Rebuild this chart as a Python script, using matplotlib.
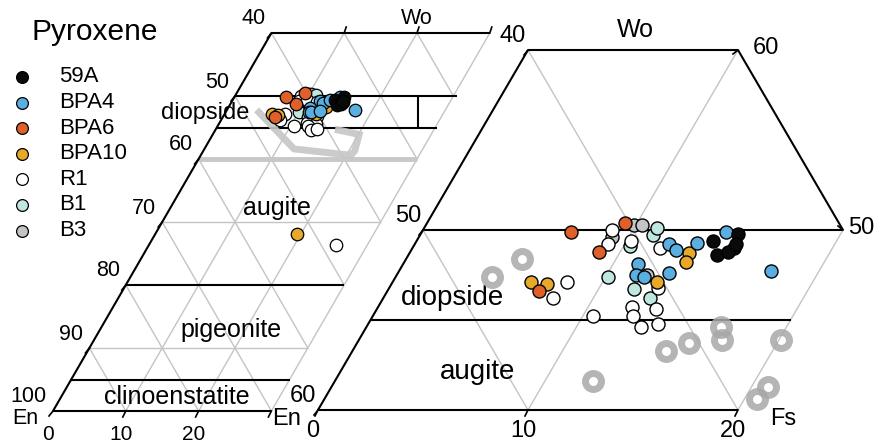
import numpy as np
import matplotlib.pyplot as plt

plt.rcParams['font.family'] = ['Liberation Sans', 'DejaVu Sans']

# pyroxene compositions, (Fs, Wo) in mol %
fs_59a = [14.1, 15.1, 15.3, 14.7, 15.1, 15.3]
wo_59a = [49.4, 49.8, 49.0, 48.6, 48.8, 49.2]

fs_bpa4 = [12.1, 12.6, 13.4, 17.7, 11.2, 11.4, 11.8, 12.9, 14.5]
wo_bpa4 = [49.2, 48.9, 49.3, 47.7, 48.1, 47.5, 47.4, 47.6, 49.9]

fs_bpa6 = [9.4, 9.0, 7.1, 7.2]
wo_bpa6 = [50.4, 48.8, 49.9, 46.6]

fs_bpa10 = [6.6, 7.4, 13.3, 13.4, 12.6, 19.5]
wo_bpa10 = [47.1, 47.0, 48.7, 48.2, 47.1, 28.1]

fs_r1 = [9.0, 9.2, 10.2, 11.8, 8.3, 8.1, 10.5, 12.8, 12.1, 13.3, 12.4, 13.1, 13.8, 25.7]
wo_r1 = [50.0, 49.2, 49.4, 49.0, 47.1, 46.2, 45.2, 46.8, 45.7, 45.6, 45.2, 44.6, 44.8, 26.3]

fs_b1 = [11.1, 10.3, 10.1, 11.7, 12.7, 11.1]
wo_b1 = [49.7, 49.1, 47.4, 46.7, 46.2, 50.1]

fs_b3 = [9.9, 10.3, 9.2, 11.9]
wo_b3 = [50.3, 50.3, 49.6, 47.5]

# reference pyroxenes (grey rings)
fs_ref = [5.5, 4.6, 14.9, 15.8, 16.9, 17.3, 20.1, 12.3, 20.8, 20.6]
wo_ref = [48.4, 47.4, 43.3, 43.7, 44.6, 43.9, 43.9, 41.6, 41.3, 40.6]
ref_outline = [1, 7, 9, 8, 6, 4]

samples = [
    ('59A', fs_59a, wo_59a, '#0a0a0a'),
    ('BPA4', fs_bpa4, wo_bpa4, '#5aaee0'),
    ('BPA6', fs_bpa6, wo_bpa6, '#e0602a'),
    ('BPA10', fs_bpa10, wo_bpa10, '#e8a82a'),
    ('R1', fs_r1, wo_r1, '#ffffff'),
    ('B1', fs_b1, wo_b1, '#c0e6e0'),
    ('B3', fs_b3, wo_b3, '#c4c4c4'),
]


def left_xy(fs, wo):
    fs = np.asarray(fs, float)
    wo = np.asarray(wo, float)
    return 53 + 7.28 * (fs + wo / 2), 411 - 6.3 * wo


def right_xy(fs, wo):
    fs = np.asarray(fs, float)
    wo = np.asarray(wo, float) - 40
    return 318 + 21 * (fs + wo / 2), 410 - 18 * wo


fig = plt.figure(figsize=(8.74, 4.45), dpi=100)
ax = fig.add_axes([0, 0, 1, 1])
ax.set_xlim(0, 874)
ax.set_ylim(445, 0)
ax.axis('off')

GRID = dict(color='#c4c4c4', lw=1.0, zorder=1)
FRAME = dict(color='black', lw=1.5, zorder=2)


def seg(proj, a, b, **kw):
    x, y = proj([a[0], b[0]], [a[1], b[1]])
    ax.plot(x, y, solid_capstyle='butt', **kw)


# ---- full quadrilateral (left) ----
for wo in [10, 30]:
    seg(left_xy, (0, wo), (30, wo), **GRID)
for fs in [10, 20, 30]:
    seg(left_xy, (fs, 0), (fs, 60), **GRID)
for en in range(20, 100, 10):
    s = 100 - en
    f0, f1 = max(0, s - 60), min(30, s)
    seg(left_xy, (f0, s - f0), (f1, s - f1), **GRID)
seg(left_xy, (0, 40), (30, 40), color='#c8c8c8', lw=3.5, zorder=1)

seg(left_xy, (0, 0), (0, 60), **FRAME)
for wo, end in [(0, 30), (5, 30), (20, 30), (45, 30.2), (50, 30.5), (60, 30)]:
    seg(left_xy, (0, wo), (end, wo), **FRAME)
seg(left_xy, (25.1, 50), (27.6, 45), **FRAME)

xo, yo = left_xy(np.array(fs_ref)[ref_outline], np.array(wo_ref)[ref_outline])
ax.plot(xo, yo, color='#c6c6c6', lw=5, alpha=0.9, zorder=2,
        solid_joinstyle='miter')

# ticks and labels
for wo in range(0, 70, 10):
    x, y = left_xy(0, wo)
    ax.plot([x, x - 4], [y, y + 5], color='black', lw=1.2)
    ax.text(x - 6, y - 14, str(100 - wo), ha='right', va='center', fontsize=15.5)
for fs in [10, 20, 30]:
    x, y = left_xy(fs, 0)
    ax.plot([x, x - 3], [y, y + 6], color='black', lw=1.2)
    x, y = left_xy(fs, 60)
    ax.plot([x, x + 2], [y, y - 6], color='black', lw=1.2)
for fs in [0, 10, 20]:
    x, y = left_xy(fs, 0)
    ax.text(x - 5, y + 24, str(fs), ha='center', va='center', fontsize=15)
x, y = left_xy(0, 0)
ax.text(x - 28, y + 8, 'En', ha='center', va='center', fontsize=15.5)
ax.text(417, 18, 'Wo', ha='center', va='center', fontsize=15.5)

ax.text(205, 113, 'diopside', ha='center', va='center', fontsize=17)
ax.text(277, 208, 'augite', ha='center', va='center', fontsize=18)
ax.text(231, 330, 'pigeonite', ha='center', va='center', fontsize=18)
ax.text(177, 397, 'clinoenstatite', ha='center', va='center', fontsize=18)

# ---- enlarged Ca-rich part (right) ----
seg(right_xy, (10, 40), (10, 60), **GRID)
seg(right_xy, (20, 40), (20, 50), **GRID)
seg(right_xy, (0, 60), (20, 40), **GRID)
seg(right_xy, (0, 50), (10, 40), **GRID)

seg(right_xy, (0, 40), (0, 60), **FRAME)
seg(right_xy, (0, 60), (10, 60), **FRAME)
seg(right_xy, (10, 60), (20, 50), **FRAME)
for wo in [40, 45, 50]:
    seg(right_xy, (0, wo), (20, wo), **FRAME)

for wo in [40, 50, 60]:
    x, y = right_xy(0, wo)
    ax.plot([x, x - 4], [y, y + 5], color='black', lw=1.2)
    ax.text(x - 2, y - 14, str(100 - wo), ha='right', va='center', fontsize=17)
for fs in [0, 10, 20]:
    x, y = right_xy(fs, 40)
    ax.plot([x, x - 3], [y, y + 6], color='black', lw=1.2)
    ax.text(x - 5, y + 21, str(fs), ha='center', va='center', fontsize=17)
x, y = right_xy(10, 60)
ax.plot([x, x - 5], [y, y + 4], color='black', lw=1.2)
ax.text(x + 15, y - 2, '60', ha='left', va='center', fontsize=17)
x, y = right_xy(20, 50)
ax.plot([x, x - 5], [y, y - 4], color='black', lw=1.2)
ax.text(x + 5, y - 2, '50', ha='left', va='center', fontsize=17)
x, y = right_xy(0, 40)
ax.text(x - 31, y + 9, 'En', ha='center', va='center', fontsize=17)
x, y = right_xy(20, 40)
ax.text(x + 45, y + 9, 'Fs', ha='center', va='center', fontsize=17)
ax.text(635, 30, 'Wo', ha='center', va='center', fontsize=18)

ax.text(452, 298, 'diopside', ha='center', va='center', fontsize=20)
ax.text(478, 372, 'augite', ha='center', va='center', fontsize=20)

xr, yr = right_xy(fs_ref, wo_ref)
ax.plot(xr, yr, 'o', ms=11.5, mfc='none', mec='#a8a8a8', mew=5,
        alpha=0.85, zorder=3)

# ---- sample points in both diagrams ----
for name, fs, wo, col in reversed(samples):
    fs = np.asarray(fs)
    wo = np.asarray(wo)
    xl, yl = left_xy(fs, wo)
    ax.plot(xl, yl, 'o', ms=9, mfc=col, mec='black', mew=0.9, zorder=4)
    keep = wo >= 40
    xr, yr = right_xy(fs[keep], wo[keep])
    ax.plot(xr, yr, 'o', ms=9.4, mfc=col, mec='black', mew=1.0, zorder=4)

# ---- legend ----
ax.text(32, 32, 'Pyroxene', ha='left', va='center', fontsize=21.5)
for i, (name, fs, wo, col) in enumerate(samples):
    y = 77 + 25.6 * i
    ax.plot(22, y, 'o', ms=8.5, mfc=col, mec='black', mew=0.9)
    ax.text(59, y, name, ha='left', va='center', fontsize=16)

fig.savefig('out.png', dpi=100, facecolor='white')
